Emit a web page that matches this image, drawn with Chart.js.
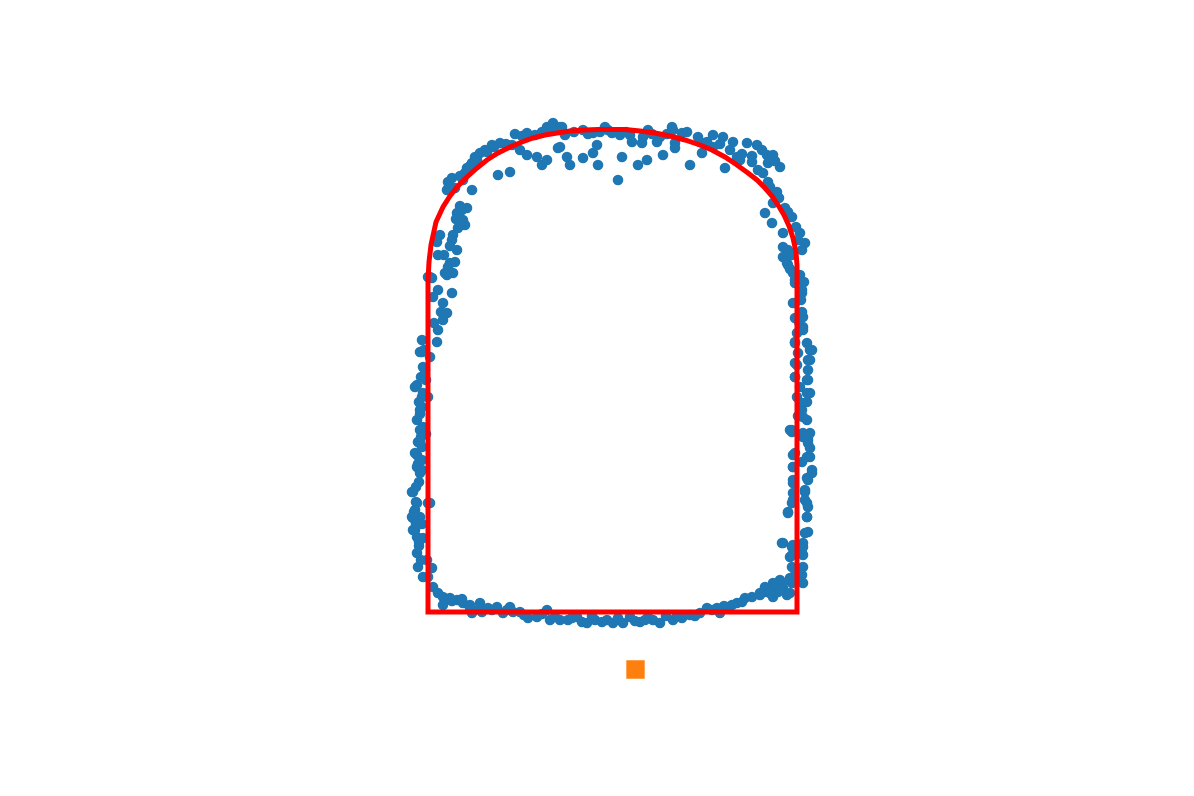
<!DOCTYPE html>
<html>
<head>
<meta charset="utf-8">
<script src="https://cdn.jsdelivr.net/npm/chart.js@4.4.1/dist/chart.umd.min.js"></script>
<style>
  html, body { margin: 0; padding: 0; background: #ffffff; }
  #wrap { width: 1194px; height: 796px; }
</style>
</head>
<body>
<div id="wrap"><canvas id="c" width="1194" height="796"></canvas></div>
<script>
// Scanned points, units relative to tunnel centreline (x) and invert level (y)
const crownPts = [
  [-97,478],[-85,479],[-77,477],[-65,485],[-59,489],[-52,485],[-47,477],[-120,467],[-112,469],[-127,462],
  [-132,459],[-135,452],[-140,449],[-145,444],[-147,439],[-100,467],[-85,457],[-75,455],[-70,447],[-65,452],
  [-54,464],[-45,455],[-102,440],[-114,437],[-92,462],
  [-50,485],[-29,482],[-19,479],[-7,485],[-4,482],[8,477],[18,477],[20,470],[31,475],[36,482],
  [48,475],[60,485],[63,469],[-52,465],[-42,447],[-29,454],[-19,459],[-15,467],[-14,447],[10,455],
  [6,432],[26,447],[35,452],[30,469],[51,457],[45,470],[-12,480],
  [61,482],[63,464],[75,480],[86,475],[78,447],[90,459],[101,477],[111,475],[121,470],[101,465],
  [113,444],[125,455],[135,469],[145,467],[150,462],[155,457],[161,457],[156,449],[168,445],[140,450],
  [146,442],[151,439],[128,452],[88,470],
  [-142,446],[-137,455],[-125,460],[-118,465],[-106,468],[-90,476],[-70,480],[-60,482],[-38,480],[-24,478],
  [0,479],[14,480],[40,478],[55,478],[70,479],[95,470],[108,468],[118,462],[130,458],[140,456],[163,451]
];
const leftArchPts = [
  [-160,434],[-164,430],[-165,422],[-157,424],[-140,422],[-149,432],[-150,402],[-145,404],[-155,399],[-149,392],
  [-147,387],[-154,384],[-159,377],[-160,372],[-172,377],[-175,370],[-174,357],[-155,362],[-157,350],[-162,349],
  [-167,339],[-159,339],[-184,335],[-180,334],
  [-152,436],[-163,426],[-152,406],[-156,393],[-162,366],[-168,357],[-164,345]
];
const rightArchPts = [
  [156,430],[165,420],[161,409],[173,404],[180,395],[153,399],[160,389],[171,379],[188,379],[193,369],
  [171,365],[171,355],[176,347],[188,337],[190,362],[176,362],
  [158,425],[167,414],[176,400],[184,385],[186,372],[180,357],[178,343]
];
const leftWallPts = [
  [-182,335],[-165,337],[-160,319],[-174,322],[-179,315],[-169,309],[-165,299],[-169,292],[-174,282],[-175,270],
  [-190,272],[-190,260],[-182,255],[-187,242],[-195,227],[-189,219],[-184,215],[-190,205],[-195,192],[-189,185],
  [-194,170],[-190,165],[-186,232],[-192,198],[-186,178],[-178,289],[-171,300],
  [-192,169],[-195,157],[-195,145],[-192,139],[-199,120],[-184,109],[-197,102],[-199,94],[-192,95],[-197,82],
  [-195,75],[-189,74],[-195,59],[-194,45],[-180,44],[-184,35],[-179,25],[-174,19],[-169,15],[-162,14],
  [-155,12],[-149,9],[-142,4],[-132,4],[-169,7],[-193,130],[-190,152],[-196,110],[-193,66],[-190,88],
  [-185,52],[-189,35],
  [-192,260],[-189,245],[-197,225],[-190,215],[-192,202],[-192,182],[-197,159],[-192,152],[-190,142],[-200,120],
  [-195,109],[-200,95],[-199,82],[-182,109],[-188,262],[-191,235],[-193,210],[-191,175],[-194,148],[-196,125],
  [-198,100],[-196,88],[-193,70],[-191,52]
];
const invertPts = [
  [-142,7],[-132,9],[-140,-1],[-130,0],[-124,4],[-115,5],[-109,-1],[-102,5],[-99,0],[-92,0],
  [-84,-6],[-75,-5],[-65,2],[-62,-8],[-52,-8],[-44,-8],[-35,-5],[-25,-11],[-17,-8],[-5,-8],
  [1,-11],[6,-6],[11,-11],[18,-5],[28,-10],[36,-5],[48,-11],[41,-8],[61,-8],[70,-6],
  [78,-3],[88,-1],[95,4],[105,4],[108,-1],[115,5],[125,9],[133,14],[148,17],[155,20],
  [161,15],[166,20],[171,24],[175,17],[180,29],[183,37],[178,19],[-20,-4],[54,-4],[120,7],
  [-160,11],[-150,13],[-120,2],[-105,2],[-88,-3],[-70,-2],[-57,-5],[-40,-6],[-30,-10],[-10,-10],
  [23,-9],[33,-8],[65,-4],[83,-4],[100,2],[112,6],[130,10],[140,15],[170,28],[185,30],[163,25]
];
const rightWallPts = [
  [180,180],[191,179],[196,172],[198,164],[181,157],[198,155],[190,150],[181,145],[200,139],[195,134],
  [181,132],[193,120],[181,119],[193,112],[180,109],[196,105],[176,100],[195,95],[196,80],[171,69],
  [181,67],[191,69],[178,55],[190,59],[180,45],[191,45],[190,37],[178,34],[191,29],[168,32],
  [161,29],[153,25],[168,22],[158,19],[148,19],
  [175,349],[181,339],[183,329],[190,319],[181,309],[190,300],[183,294],[191,285],[185,279],[183,269],
  [195,269],[200,262],[186,259],[198,252],[183,249],[196,242],[183,235],[195,232],[188,225],[198,219],
  [185,215],[195,210],[190,202],[195,192],[180,182],[198,179],[191,175],[187,290],[192,330],[186,196],
  [189,312],
  [183,332],[190,322],[183,309],[191,295],[191,282],[183,270],[198,262],[196,252],[185,247],[183,235],
  [196,232],[195,219],[190,209],[191,195],[178,182],[196,175],[196,169],[183,159],[195,155],[181,145],
  [200,142],[196,132],[181,129],[193,122],[181,112],[195,109],[176,99],[195,95],[193,79],[170,69],
  [180,65],[191,65],[180,57],[191,57]
];
// Design profile (red outline)
const profileX = [-184,-184,-183,-181,-176,-169,-162,-154,-145,-135,-125,-114,-102,-90,-79,-67,-55,-42,-27,-14,
  0,13,28,43,58,73,88,100,113,125,136,145,153,160,166,172,177,181,184,185,185,185,-184];
const profileY = [0,332,350,367,390,405,416,426,435,444,452,459,465,470,474,477,479,481,482,482.5,
  482.5,482.5,481,479,476,472,467,462,455,447,439,432,424,416,407,397,386,374,360,347,332,0,0];
const referencePt = [[23.5,-57.5]];

const toXY = arr => arr.map(p => ({x: p[0], y: p[1]}));
const scanned = [].concat(crownPts, leftArchPts, rightArchPts, leftWallPts, invertPts, rightWallPts);
const profile = profileX.map((x, i) => ({x: x, y: profileY[i]}));

new Chart(document.getElementById('c'), {
  type: 'scatter',
  data: {
    datasets: [
      {
        label: 'profile',
        data: profile,
        showLine: true,
        borderColor: '#ff0000',
        borderWidth: 5,
        borderJoinStyle: 'miter',
        borderCapStyle: 'square',
        pointRadius: 0,
        fill: false,
        tension: 0,
        order: 1
      },
      {
        label: 'scan',
        data: toXY(scanned),
        backgroundColor: '#1f77b4',
        borderColor: '#1f77b4',
        pointRadius: 5.3,
        pointBorderWidth: 0,
        order: 2
      },
      {
        label: 'ref',
        data: toXY(referencePt),
        backgroundColor: '#ff7f0e',
        borderColor: '#ff7f0e',
        pointStyle: 'rect',
        pointRadius: 13,
        pointBorderWidth: 0,
        order: 3
      }
    ]
  },
  options: {
    responsive: false,
    animation: false,
    devicePixelRatio: 1,
    layout: { padding: { left: 149, right: 119, top: 95.5, bottom: 87.5 } },
    plugins: { legend: { display: false }, tooltip: { enabled: false } },
    scales: {
      x: { type: 'linear', min: -463, max: 463, display: false },
      y: { type: 'linear', min: -96.5, max: 516.5, display: false }
    }
  }
});
</script>
</body>
</html>
